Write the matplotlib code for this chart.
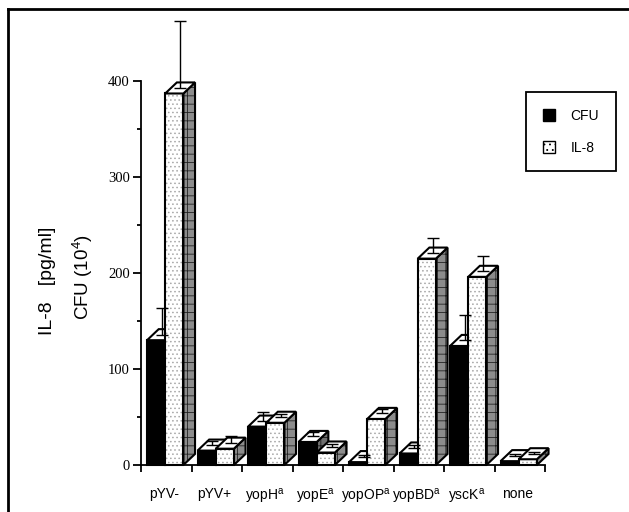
import matplotlib
matplotlib.use("Agg")
import matplotlib.pyplot as plt
from matplotlib.patches import Patch
from matplotlib.lines import Line2D

plt.rcParams['font.family'] = ['Liberation Sans', 'DejaVu Sans']
plt.rcParams['mathtext.fontset'] = 'custom'
plt.rcParams['mathtext.rm'] = 'Liberation Sans'
plt.rcParams['hatch.linewidth'] = 0.6

# data
strains = ['pYV-', 'pYV+', 'yopH$^{\\mathrm{a}}$', 'yopE$^{\\mathrm{a}}$',
           'yopOP$^{\\mathrm{a}}$', 'yopBD$^{\\mathrm{a}}$', 'yscK$^{\\mathrm{a}}$', 'none']
cfu = [130, 15, 40, 24, 3, 12, 124, 4]
cfu_err = [28, 4, 9, 5, 2, 3, 27, 2]
il8 = [387, 17, 44, 13, 48, 215, 196, 6]
il8_err = [70, 7, 3, 3, 5, 16, 16, 2]

W, H = 629, 512
fig = plt.figure(figsize=(W / 100, H / 100), dpi=100)
ax = fig.add_axes([141 / W, 47 / H, 404 / W, 384 / H])
ax.set_xlim(-0.5, 7.5)
ax.set_ylim(0, 400)

bw = 0.36      # bar width (category units)
dx, dy = 0.23, 11.5   # 3d depth offset

def box(x0, v, front, side, err):
    # side face
    ax.fill([x0 + bw, x0 + bw + dx, x0 + bw + dx, x0 + bw],
            [0, dy, v + dy, v], facecolor=side['fc'], edgecolor=side['hc'],
            hatch=side['hatch'], lw=0, clip_on=False)
    ax.fill([x0 + bw, x0 + bw + dx, x0 + bw + dx, x0 + bw],
            [0, dy, v + dy, v], fill=False, edgecolor='black', lw=1.5,
            joinstyle='miter', clip_on=False)
    # front face
    ax.bar(x0, v, width=bw, align='edge', color=front['fc'], edgecolor=front['hc'],
           hatch=front['hatch'], lw=0, clip_on=False)
    ax.bar(x0, v, width=bw, align='edge', fill=False, edgecolor='black', lw=1.5,
           clip_on=False)
    # top face
    ax.fill([x0, x0 + dx, x0 + bw + dx, x0 + bw], [v, v + dy, v + dy, v],
            facecolor='white', edgecolor='black', lw=1.5, joinstyle='miter',
            clip_on=False)
    # error bar from the centre of the top face
    ax.errorbar(x0 + bw / 2 + dx / 2, v + dy / 2, yerr=[[0], [err]], fmt='none',
                ecolor='black', elinewidth=1, capsize=4, capthick=1, clip_on=False)

cfu_front = dict(fc='black', hc='black', hatch=None)
cfu_side = dict(fc='#6e6e6e', hc='#1a1a1a', hatch='++')
il8_front = dict(fc='white', hc='#a8a8a8', hatch='....')
il8_side = dict(fc='#8c8c8c', hc='#222222', hatch='++')

for i in range(len(strains)):
    box(i - 0.38, cfu[i], cfu_front, cfu_side, cfu_err[i])
    box(i - 0.02, il8[i], il8_front, il8_side, il8_err[i])

# axes styling
for s in ['top', 'right']:
    ax.spines[s].set_visible(False)
ax.spines['left'].set_linewidth(1.3)
ax.spines['bottom'].set_linewidth(1.3)

ax.set_yticks([0, 100, 200, 300, 400])
ax.set_yticks([50, 150, 250, 350], minor=True)
ax.tick_params(axis='y', which='major', direction='out', length=6, width=1.3, pad=2,
               labelsize=10.5, labelfontfamily='Liberation Serif')
ax.tick_params(axis='y', which='minor', direction='out', length=3, width=1.3)

ax.set_xticks([k - 0.5 for k in range(len(strains) + 1)])
ax.set_xticklabels([])
ax.set_xticks([k - 0.05 for k in range(len(strains))], minor=True)
ax.set_xticklabels(strains, minor=True)
ax.tick_params(axis='x', which='major', direction='out', length=5, width=1.3)
ax.tick_params(axis='x', which='minor', length=0, pad=16, labelsize=10)

fig.text(47 / W, 1 - 281 / H, 'IL-8   [pg/ml]', rotation=90, ha='center', va='center',
         fontsize=14)
fig.text(83 / W, 1 - 277 / H, 'CFU (10$^{4}$)', rotation=90, ha='center', va='center',
         fontsize=13.5)

handles = [Patch(facecolor='black', edgecolor='black'),
           Patch(facecolor='white', edgecolor='black', hatch='...')]
leg = ax.legend(handles, ['CFU', 'IL-8'], loc='upper left',
                bbox_to_anchor=(526 / W, 1 - 92 / H), bbox_transform=fig.transFigure,
                fancybox=False, edgecolor='black', framealpha=1, fontsize=10,
                handlelength=0.9, handleheight=0.9, handletextpad=1.1,
                labelspacing=1.3, borderpad=1.2, borderaxespad=0)
leg.get_frame().set_linewidth(1.3)

# outer frame (top and left only)
fig.add_artist(Line2D([8 / W, 1], [1 - 9 / H, 1 - 9 / H], color='black', lw=2))
fig.add_artist(Line2D([8 / W, 8 / W], [1 - 9 / H, 0], color='black', lw=2))

fig.savefig('out.png', dpi=100)
